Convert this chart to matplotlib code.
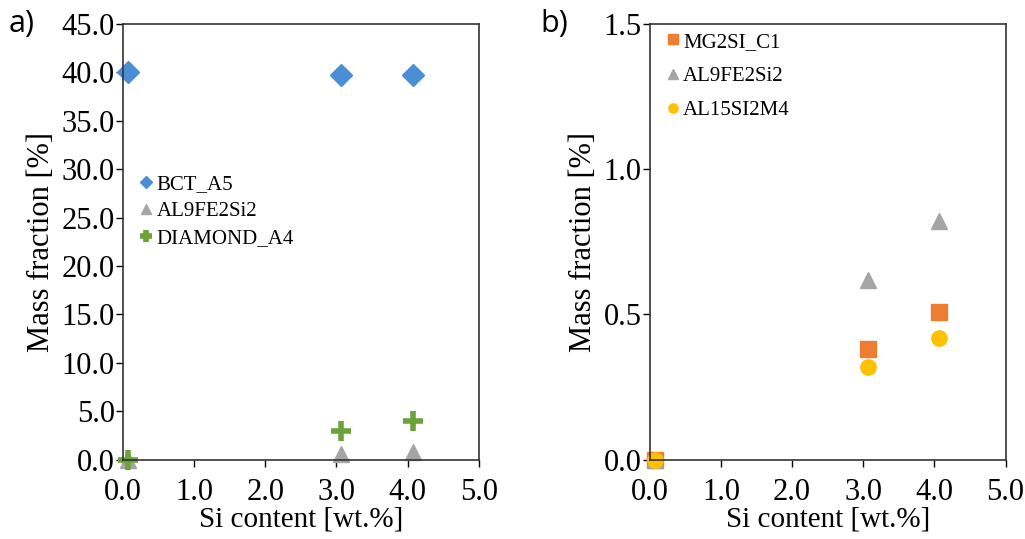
import matplotlib.pyplot as plt
import numpy as np

si_content = [0.07, 3.06, 4.07]

bct_a5 = [40.0, 39.7, 39.7]
al9fe2si2_a = [0.0, 0.6, 0.8]
diamond_a4 = [0.0, 3.0, 4.0]

mg2si_c1 = [0.0, 0.38, 0.51]
al9fe2si2_b = [0.0, 0.62, 0.82]
al15si2m4 = [0.0, 0.32, 0.42]

x_ticks = [0, 1, 2, 3, 4, 5]
y_ticks_a = [0, 5, 10, 15, 20, 25, 30, 35, 40, 45]
y_ticks_b = [0.0, 0.5, 1.0, 1.5]

plt.rcParams['font.family'] = 'Liberation Serif'

fig = plt.figure(figsize=(10.25, 5.39), dpi=100)
ax1 = fig.add_axes([0.120, 0.147, 0.347, 0.809])
ax2 = fig.add_axes([0.634, 0.147, 0.347, 0.809])


def style_axis(ax, yticks, yfmt):
    ax.set_xlim(0, 5)
    ax.set_ylim(yticks[0], yticks[-1])
    ax.set_xticks(x_ticks)
    ax.set_xticklabels(["%.1f" % t for t in x_ticks])
    ax.set_yticks(yticks)
    ax.set_yticklabels([yfmt % t for t in yticks])
    ax.tick_params(direction='out', length=5, width=1, labelsize=22)
    ax.tick_params(axis='x', pad=8)
    ax.tick_params(axis='y', pad=1)
    for sp in ax.spines.values():
        sp.set_color('#333333')
        sp.set_linewidth(1.2)
    ax.set_xlabel("Si content [wt.%]", fontsize=21, labelpad=0)
    ax.set_ylabel("Mass fraction [%]", fontsize=22, labelpad=4)


# panel a
ax1.plot(si_content, bct_a5, 'D', color='#4A8FD6', ms=11, label='BCT_A5', clip_on=False)
ax1.plot(si_content, al9fe2si2_a, '^', color='#A5A5A5', ms=11, label='AL9FE2Si2', clip_on=False)
ax1.plot(si_content, diamond_a4, '+', color='#6AA338', ms=15, mew=4, label='DIAMOND_A4', clip_on=False)
style_axis(ax1, y_ticks_a, "%.1f")
ax1.legend(loc='center left', bbox_to_anchor=(0.0, 0.569), frameon=False, fontsize=15,
           markerscale=0.6, handletextpad=0.1, handlelength=0.8, labelspacing=0.35,
           borderaxespad=0.3)

# panel b
ax2.plot(si_content, mg2si_c1, 's', color='#ED7D31', ms=11, label='MG2SI_C1', clip_on=False)
ax2.plot(si_content, al9fe2si2_b, '^', color='#A5A5A5', ms=11, label='AL9FE2Si2', clip_on=False)
ax2.plot(si_content, al15si2m4, 'o', color='#FFC000', ms=11, label='AL15SI2M4', clip_on=False)
style_axis(ax2, y_ticks_b, "%.1f")
ax2.legend(loc='upper left', bbox_to_anchor=(0.0, 1.014), frameon=False, fontsize=15,
           markerscale=0.6, handletextpad=0.1, handlelength=0.8, labelspacing=0.7,
           borderaxespad=0.3)

fig.text(0.008, 0.955, "a)", fontsize=22, family='Open Sans', va='center')
fig.text(0.527, 0.955, "b)", fontsize=22, family='Open Sans', va='center')

fig.savefig("out.png", dpi=100)
